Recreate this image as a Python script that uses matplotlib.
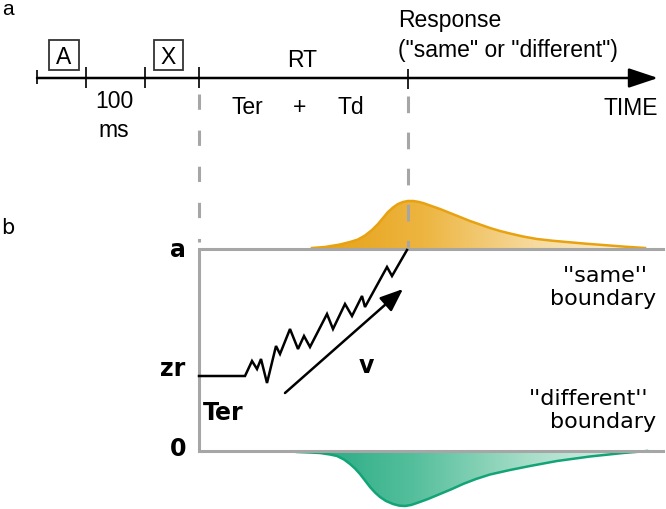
import matplotlib.pyplot as plt
import numpy as np
from matplotlib.colors import LinearSegmentedColormap
from matplotlib.patches import Polygon

plt.rcParams['lines.scale_dashes'] = False

# --- timeline (panel a), pixel-like diagram units ---
timeline_y = 79
timeline_x = [37, 658]
tick_x = [37, 86, 145, 199, 408]
tick_top = [71, 68, 68, 68, 70]
tick_bot = [85, 89, 89, 89, 90]

# --- diffusion box (panel b) ---
box_left, box_right = 199, 663
bound_a, bound_0 = 250, 452

# random walk path (x, evidence as picture rows)
walk_x = [199, 245, 252, 257, 261, 267, 276, 280, 290, 298, 304, 310,
          327, 333, 345, 352, 362, 365, 387, 392, 407]
walk_y = [377, 377, 362, 370, 360, 384, 347, 355, 330, 350, 337, 348,
          315, 330, 305, 317, 297, 308, 268, 277, 251]

# drift arrow
drift_from = (285, 394)
drift_to = (403, 290)

# "same" RT distribution (above upper bound)
same_x = [312, 325, 340, 350, 358, 365, 372, 378, 383, 388, 393, 398,
          403, 408, 413, 418, 423, 430, 440, 450, 460, 470, 480, 490,
          500, 510, 523, 537, 553, 570, 586, 603, 625, 645]
same_y = [249, 248, 245.5, 243, 240.5, 236.5, 231, 225, 219, 213, 208.5, 205,
          203, 202, 202, 202.8, 204, 206.5, 210, 214, 218, 222, 225.5, 229,
          232, 234.5, 237.5, 240, 241.8, 243.3, 244.7, 246, 247.7, 249]

# "different" RT distribution (below lower bound)
diff_x = [297, 310, 320, 330, 337, 344, 350, 355, 360, 365, 370, 375,
          380, 386, 393, 399, 405, 411, 417, 428, 440, 452, 463, 476,
          490, 510, 530, 557, 590, 623, 647]
diff_y = [453, 453.5, 454, 455.5, 457, 460.5, 465, 469.5, 475, 481.5, 488, 493.5,
          498, 502, 505, 506.6, 507, 506, 504, 500, 495, 490, 485, 480,
          475.5, 471, 467, 462, 457.5, 454, 452]

GREY = '#A6A6A6'
ORANGE = '#E8A20F'
GREEN = '#12A377'

fig = plt.figure(figsize=(6.66, 5.10), dpi=100)
ax = fig.add_axes([0, 0, 1, 1])
ax.set_xlim(0, 666)
ax.set_ylim(510, 0)
ax.axis('off')

sans = 'Liberation Sans'
verd = 'DejaVu Sans'

# panel labels
ax.text(2, 15, 'a', fontsize=15, family=sans, va='baseline')
ax.text(1, 234, 'b', fontsize=15, family=verd, va='baseline')

# timeline arrow and ticks
ax.annotate('', xy=(timeline_x[1], timeline_y), xytext=(timeline_x[0], timeline_y),
            arrowprops=dict(arrowstyle='-|>,head_length=0.9,head_width=0.3',
                            lw=1.8, color='black', mutation_scale=20,
                            shrinkA=0, shrinkB=0))
for x, t, b in zip(tick_x, tick_top, tick_bot):
    ax.plot([x, x], [t, b], color='#222222', lw=1.4, solid_capstyle='butt')

# stimulus boxes
for label, x0, x1 in [('A', 49, 79), ('X', 154, 183)]:
    ax.add_patch(plt.Rectangle((x0, 41), x1 - x0, 30, fill=False,
                               ec='#333333', lw=1.3))
    ax.text((x0 + x1) / 2, 64, label, fontsize=16.5, family=sans,
            ha='center', va='baseline')

ax.text(114, 108, '100', fontsize=16.5, family=sans, ha='center', va='baseline')
ax.text(114, 137, 'ms', fontsize=16.5, family=sans, ha='center', va='baseline')
ax.text(302, 67, 'RT', fontsize=16.5, family=sans, ha='center', va='baseline')
ax.text(247, 114, 'Ter', fontsize=16.5, family=sans, ha='center', va='baseline')
ax.text(300, 114, '+', fontsize=16.5, family=sans, ha='center', va='baseline')
ax.text(351, 114, 'Td', fontsize=16.5, family=sans, ha='center', va='baseline')
ax.text(658, 115, 'TIME', fontsize=16.5, family=sans, ha='right', va='baseline')
ax.text(398, 27, 'Response', fontsize=16.5, family=sans, ha='left', va='baseline')
ax.text(398, 57, '("same" or "different")', fontsize=16.5, family=sans,
        ha='left', va='baseline')


def gradient_fill(xs, ys, base, colors):
    poly = Polygon(list(zip(xs, ys)) + [(xs[-1], base), (xs[0], base)],
                   closed=True, fc='none', ec='none')
    ax.add_patch(poly)
    cmap = LinearSegmentedColormap.from_list('g', colors)
    grad = np.linspace(0, 1, 256).reshape(1, -1)
    lo, hi = min(ys + [base]), max(ys + [base])
    im = ax.imshow(grad, cmap=cmap, aspect='auto',
                   extent=[xs[0], xs[-1], hi, lo], zorder=1)
    im.set_clip_path(poly)


gradient_fill(same_x, same_y, bound_a, ['#E6A015', '#EDB540', '#F6DA9E', '#FCF2DE'])
ax.plot(same_x, same_y, color=ORANGE, lw=1.8, zorder=2)
gradient_fill(diff_x, diff_y, bound_0, ['#1FA67E', '#55BF9C', '#A8DEC9', '#E0F4EC'])
ax.plot(diff_x, diff_y, color=GREEN, lw=1.8, zorder=2)

# dashed guide lines
ax.plot([199, 199], [95, 243], color=GREY, lw=2.2, dashes=(11, 15), zorder=3)
ax.plot([408, 408], [97, 248], color=GREY, lw=2.2, dashes=(12, 14), zorder=3)

# boundaries
ax.plot([box_right, box_left, box_left, box_right],
        [bound_a, bound_a, bound_0, bound_0], color=GREY, lw=2.2, zorder=3,
        solid_joinstyle='miter')

# random walk
ax.plot(walk_x, walk_y, color='black', lw=1.8, zorder=4, solid_joinstyle='miter')

ax.annotate('', xy=drift_to, xytext=drift_from,
            arrowprops=dict(arrowstyle='-|>,head_length=0.7,head_width=0.28',
                            lw=1.8, color='black', mutation_scale=20,
                            shrinkA=0, shrinkB=0), zorder=4)

# bold labels
ax.text(186, 257, 'a', fontsize=17, family=verd, weight='bold', ha='right', va='baseline')
ax.text(185, 376, 'zr', fontsize=17, family=verd, weight='bold', ha='right', va='baseline')
ax.text(186, 456, '0', fontsize=17, family=verd, weight='bold', ha='right', va='baseline')
ax.text(203, 420, 'Ter', fontsize=17, family=verd, weight='bold', ha='left', va='baseline')
ax.text(366, 373, 'v', fontsize=17, family=verd, weight='bold', ha='center', va='baseline')

ax.text(648, 282, "''same''", fontsize=16, family=verd, ha='right', va='baseline')
ax.text(656, 305, 'boundary', fontsize=16, family=verd, ha='right', va='baseline')
ax.text(648, 405, "''different''", fontsize=16, family=verd, ha='right', va='baseline')
ax.text(656, 428, 'boundary', fontsize=16, family=verd, ha='right', va='baseline')

ax.set_xlim(0, 666)
ax.set_ylim(510, 0)

fig.savefig('out.png', dpi=100)
